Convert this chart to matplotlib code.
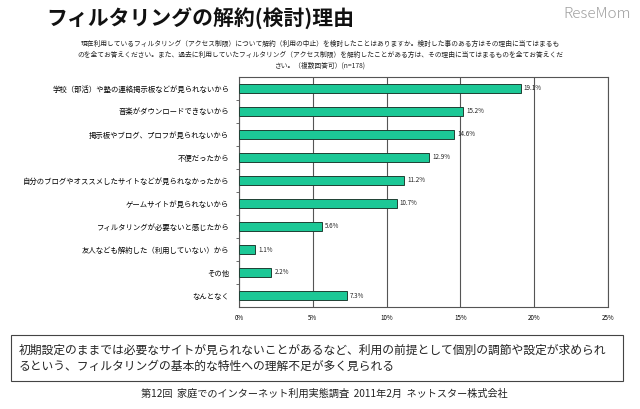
import matplotlib.pyplot as plt
from matplotlib.patches import Rectangle

plt.rcParams['font.family'] = ['Noto Sans CJK JP', 'DejaVu Sans']

# データ
reasons = [
    "学校（部活）や塾の連絡掲示板などが見られないから",
    "音楽がダウンロードできないから",
    "掲示板やブログ、プロフが見られないから",
    "不便だったから",
    "自分のブログやオススメしたサイトなどが見られなかったから",
    "ゲームサイトが見られないから",
    "フィルタリングが必要ないと感じたから",
    "友人なども解約した（利用していない）から",
    "その他",
    "なんとなく",
]
percents = [19.1, 15.2, 14.6, 12.9, 11.2, 10.7, 5.6, 1.1, 2.2, 7.3]
xticks = [0, 5, 10, 15, 20, 25]

fig = plt.figure(figsize=(6.4, 4.09), dpi=100)
ax = fig.add_axes([239/640, 1 - 307/409, 369/640, 230/409])

y = list(range(len(reasons)))
ax.barh(y, percents, height=0.42, color='#1cc896', edgecolor='#1f3f33', linewidth=0.7, zorder=3)
for yi, v in zip(y, percents):
    ax.text(v + 0.2, yi, f"{v}%", va='center', ha='left', fontsize=4.5, color='#222222')

ax.set_ylim(len(reasons) - 0.5, -0.5)
ax.set_xlim(0, 25)
ax.set_xticks(xticks)
ax.set_xticklabels([f"{t}%" for t in xticks], fontsize=4.5)
ax.tick_params(axis='x', length=0, pad=5)
ax.set_yticks(y)
ax.set_yticklabels(reasons, fontsize=5.3)
ax.set_yticks([i + 0.5 for i in y[:-1]], minor=True)
ax.tick_params(axis='y', which='major', length=0, pad=7)
ax.tick_params(axis='y', which='minor', length=2.5, width=0.6, color='#555555')
ax.xaxis.grid(True, color='#555555', linewidth=0.8, zorder=0)
for s in ax.spines.values():
    s.set_color('#555555')
    s.set_linewidth(0.8)

# タイトル
fig.text(46/640, 1 - 19/409, "フィルタリングの解約(検討)理由", fontsize=15, fontweight='bold',
         va='center', ha='left', color='#111111')
fig.text(597/640, 1 - 14/409, "ReseMom", fontsize=11, fontweight='light', va='center', ha='center',
         color='#a0a0a0')

question = ("現在利用しているフィルタリング（アクセス制限）について解約（利用の中止）を検討したことはありますか。検討した事のある方はその理由に当てはまるも\n"
            "のを全てお答えください。また、過去に利用していたフィルタリング（アクセス制限）を解約したことがある方は、その理由に当てはまるものを全てお答えくだ\n"
            "さい。（複数回答可）(n=178)")
fig.text(320/640, 1 - 55/409, question, fontsize=4.85, va='center', ha='center', color='#222222', linespacing=1.45)

# 下のコメント枠
fig.patches.append(Rectangle((11/640, 1 - 381/409), 612/640, 46/409, transform=fig.transFigure,
                             fill=False, edgecolor='#444444', linewidth=0.8))
comment = ("初期設定のままでは必要なサイトが見られないことがあるなど、利用の前提として個別の調節や設定が求められ\n"
           "るという、フィルタリングの基本的な特性への理解不足が多く見られる")
fig.text(19/640, 1 - 358/409, comment, fontsize=8.5, va='center', ha='left', color='#222222', linespacing=1.3)

fig.text(324/640, 1 - 394/409, "第12回  家庭でのインターネット利用実態調査  2011年2月  ネットスター株式会社",
         fontsize=7.3, va='center', ha='center', color='#222222')

fig.savefig('out.png', dpi=100)
